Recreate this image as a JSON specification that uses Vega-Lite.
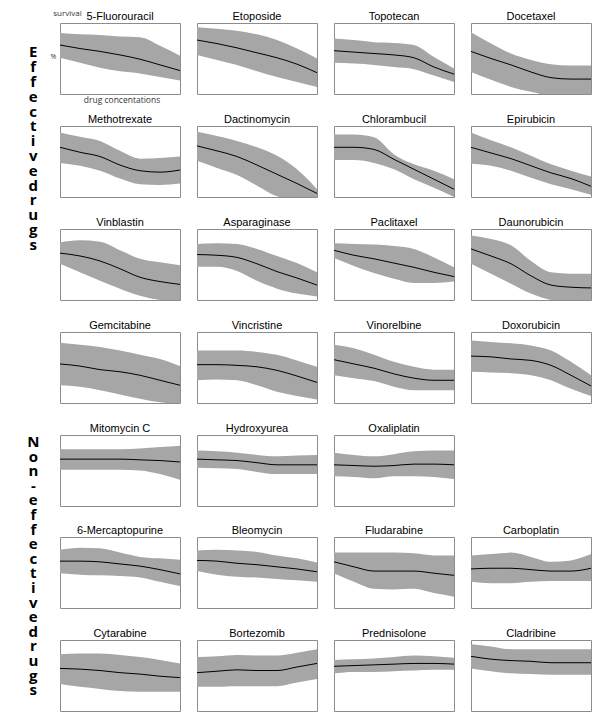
{
"$schema": "https://vega.github.io/schema/vega-lite/v6.json",
"padding": {"left": 27, "top": 9, "right": 5, "bottom": 5},
"background": "white",
"datasets": {"d": [
{"drug":"5-Fluorouracil","c":0,"s":69,"lo":51,"hi":86},{"drug":"5-Fluorouracil","c":1,"s":64,"lo":44,"hi":84},{"drug":"5-Fluorouracil","c":2,"s":60,"lo":37,"hi":83},{"drug":"5-Fluorouracil","c":3,"s":55,"lo":32,"hi":81},{"drug":"5-Fluorouracil","c":4,"s":49,"lo":29,"hi":80},{"drug":"5-Fluorouracil","c":5,"s":41,"lo":24,"hi":68},{"drug":"5-Fluorouracil","c":6,"s":33,"lo":19,"hi":54},
{"drug":"Etoposide","c":0,"s":76,"lo":55,"hi":94},{"drug":"Etoposide","c":1,"s":71,"lo":48,"hi":92},{"drug":"Etoposide","c":2,"s":65,"lo":41,"hi":89},{"drug":"Etoposide","c":3,"s":58,"lo":32,"hi":84},{"drug":"Etoposide","c":4,"s":51,"lo":24,"hi":76},{"drug":"Etoposide","c":5,"s":42,"lo":17,"hi":64},{"drug":"Etoposide","c":6,"s":30,"lo":10,"hi":50},
{"drug":"Topotecan","c":0,"s":61,"lo":44,"hi":78},{"drug":"Topotecan","c":1,"s":59,"lo":43,"hi":76},{"drug":"Topotecan","c":2,"s":57,"lo":41,"hi":73},{"drug":"Topotecan","c":3,"s":55,"lo":38,"hi":72},{"drug":"Topotecan","c":4,"s":51,"lo":35,"hi":69},{"drug":"Topotecan","c":5,"s":38,"lo":26,"hi":52},{"drug":"Topotecan","c":6,"s":28,"lo":17,"hi":36},
{"drug":"Docetaxel","c":0,"s":60,"lo":31,"hi":87},{"drug":"Docetaxel","c":1,"s":50,"lo":20,"hi":71},{"drug":"Docetaxel","c":2,"s":41,"lo":10,"hi":57},{"drug":"Docetaxel","c":3,"s":31,"lo":3,"hi":48},{"drug":"Docetaxel","c":4,"s":23,"lo":-3,"hi":42},{"drug":"Docetaxel","c":5,"s":21,"lo":-5,"hi":40},{"drug":"Docetaxel","c":6,"s":21,"lo":-5,"hi":40},
{"drug":"Methotrexate","c":0,"s":70,"lo":48,"hi":91},{"drug":"Methotrexate","c":1,"s":63,"lo":44,"hi":85},{"drug":"Methotrexate","c":2,"s":57,"lo":37,"hi":79},{"drug":"Methotrexate","c":3,"s":45,"lo":26,"hi":65},{"drug":"Methotrexate","c":4,"s":37,"lo":18,"hi":54},{"drug":"Methotrexate","c":5,"s":35,"lo":17,"hi":55},{"drug":"Methotrexate","c":6,"s":38,"lo":19,"hi":57},
{"drug":"Dactinomycin","c":0,"s":72,"lo":51,"hi":92},{"drug":"Dactinomycin","c":1,"s":65,"lo":41,"hi":86},{"drug":"Dactinomycin","c":2,"s":57,"lo":31,"hi":79},{"drug":"Dactinomycin","c":3,"s":45,"lo":16,"hi":70},{"drug":"Dactinomycin","c":4,"s":32,"lo":1,"hi":58},{"drug":"Dactinomycin","c":5,"s":19,"lo":-5,"hi":39},{"drug":"Dactinomycin","c":6,"s":5,"lo":-5,"hi":11},
{"drug":"Chlorambucil","c":0,"s":70,"lo":52,"hi":88},{"drug":"Chlorambucil","c":1,"s":70,"lo":52,"hi":88},{"drug":"Chlorambucil","c":2,"s":67,"lo":48,"hi":84},{"drug":"Chlorambucil","c":3,"s":53,"lo":39,"hi":60},{"drug":"Chlorambucil","c":4,"s":39,"lo":25,"hi":46},{"drug":"Chlorambucil","c":5,"s":25,"lo":13,"hi":37},{"drug":"Chlorambucil","c":6,"s":11,"lo":0,"hi":25},
{"drug":"Epirubicin","c":0,"s":70,"lo":47,"hi":91},{"drug":"Epirubicin","c":1,"s":62,"lo":44,"hi":80},{"drug":"Epirubicin","c":2,"s":54,"lo":37,"hi":70},{"drug":"Epirubicin","c":3,"s":44,"lo":27,"hi":58},{"drug":"Epirubicin","c":4,"s":34,"lo":18,"hi":46},{"drug":"Epirubicin","c":5,"s":26,"lo":11,"hi":37},{"drug":"Epirubicin","c":6,"s":15,"lo":3,"hi":29},
{"drug":"Vinblastin","c":0,"s":66,"lo":51,"hi":81},{"drug":"Vinblastin","c":1,"s":62,"lo":39,"hi":84},{"drug":"Vinblastin","c":2,"s":55,"lo":27,"hi":82},{"drug":"Vinblastin","c":3,"s":44,"lo":16,"hi":70},{"drug":"Vinblastin","c":4,"s":32,"lo":6,"hi":58},{"drug":"Vinblastin","c":5,"s":26,"lo":0,"hi":53},{"drug":"Vinblastin","c":6,"s":22,"lo":-2,"hi":49},
{"drug":"Asparaginase","c":0,"s":64,"lo":47,"hi":79},{"drug":"Asparaginase","c":1,"s":63,"lo":47,"hi":80},{"drug":"Asparaginase","c":2,"s":60,"lo":41,"hi":79},{"drug":"Asparaginase","c":3,"s":51,"lo":27,"hi":72},{"drug":"Asparaginase","c":4,"s":40,"lo":16,"hi":62},{"drug":"Asparaginase","c":5,"s":31,"lo":9,"hi":52},{"drug":"Asparaginase","c":6,"s":21,"lo":5,"hi":39},
{"drug":"Paclitaxel","c":0,"s":70,"lo":59,"hi":80},{"drug":"Paclitaxel","c":1,"s":63,"lo":48,"hi":79},{"drug":"Paclitaxel","c":2,"s":58,"lo":38,"hi":78},{"drug":"Paclitaxel","c":3,"s":52,"lo":30,"hi":76},{"drug":"Paclitaxel","c":4,"s":46,"lo":24,"hi":72},{"drug":"Paclitaxel","c":5,"s":39,"lo":24,"hi":60},{"drug":"Paclitaxel","c":6,"s":33,"lo":26,"hi":46},
{"drug":"Daunorubicin","c":0,"s":72,"lo":51,"hi":91},{"drug":"Daunorubicin","c":1,"s":62,"lo":37,"hi":86},{"drug":"Daunorubicin","c":2,"s":51,"lo":23,"hi":77},{"drug":"Daunorubicin","c":3,"s":34,"lo":9,"hi":55},{"drug":"Daunorubicin","c":4,"s":21,"lo":0,"hi":39},{"drug":"Daunorubicin","c":5,"s":18,"lo":-3,"hi":37},{"drug":"Daunorubicin","c":6,"s":17,"lo":-3,"hi":37},
{"drug":"Gemcitabine","c":0,"s":55,"lo":25,"hi":85},{"drug":"Gemcitabine","c":1,"s":52,"lo":23,"hi":82},{"drug":"Gemcitabine","c":2,"s":47,"lo":18,"hi":79},{"drug":"Gemcitabine","c":3,"s":44,"lo":12,"hi":74},{"drug":"Gemcitabine","c":4,"s":39,"lo":6,"hi":68},{"drug":"Gemcitabine","c":5,"s":32,"lo":1,"hi":62},{"drug":"Gemcitabine","c":6,"s":25,"lo":-2,"hi":52},
{"drug":"Vincristine","c":0,"s":54,"lo":32,"hi":74},{"drug":"Vincristine","c":1,"s":54,"lo":33,"hi":74},{"drug":"Vincristine","c":2,"s":53,"lo":32,"hi":74},{"drug":"Vincristine","c":3,"s":51,"lo":25,"hi":72},{"drug":"Vincristine","c":4,"s":46,"lo":16,"hi":68},{"drug":"Vincristine","c":5,"s":38,"lo":10,"hi":60},{"drug":"Vincristine","c":6,"s":29,"lo":5,"hi":51},
{"drug":"Vinorelbine","c":0,"s":61,"lo":39,"hi":82},{"drug":"Vinorelbine","c":1,"s":55,"lo":35,"hi":77},{"drug":"Vinorelbine","c":2,"s":49,"lo":31,"hi":68},{"drug":"Vinorelbine","c":3,"s":41,"lo":23,"hi":58},{"drug":"Vinorelbine","c":4,"s":35,"lo":18,"hi":51},{"drug":"Vinorelbine","c":5,"s":32,"lo":18,"hi":47},{"drug":"Vinorelbine","c":6,"s":32,"lo":18,"hi":47},
{"drug":"Doxorubicin","c":0,"s":66,"lo":44,"hi":88},{"drug":"Doxorubicin","c":1,"s":65,"lo":43,"hi":86},{"drug":"Doxorubicin","c":2,"s":62,"lo":42,"hi":84},{"drug":"Doxorubicin","c":3,"s":60,"lo":39,"hi":81},{"drug":"Doxorubicin","c":4,"s":53,"lo":32,"hi":74},{"drug":"Doxorubicin","c":5,"s":39,"lo":20,"hi":58},{"drug":"Doxorubicin","c":6,"s":24,"lo":10,"hi":39},
{"drug":"Mitomycin C","c":0,"s":66,"lo":51,"hi":80},{"drug":"Mitomycin C","c":1,"s":66,"lo":51,"hi":80},{"drug":"Mitomycin C","c":2,"s":66,"lo":51,"hi":80},{"drug":"Mitomycin C","c":3,"s":66,"lo":51,"hi":80},{"drug":"Mitomycin C","c":4,"s":65,"lo":50,"hi":81},{"drug":"Mitomycin C","c":5,"s":64,"lo":45,"hi":83},{"drug":"Mitomycin C","c":6,"s":62,"lo":37,"hi":85},
{"drug":"Hydroxyurea","c":0,"s":66,"lo":54,"hi":78},{"drug":"Hydroxyurea","c":1,"s":65,"lo":53,"hi":77},{"drug":"Hydroxyurea","c":2,"s":64,"lo":52,"hi":75},{"drug":"Hydroxyurea","c":3,"s":61,"lo":48,"hi":72},{"drug":"Hydroxyurea","c":4,"s":58,"lo":45,"hi":70},{"drug":"Hydroxyurea","c":5,"s":58,"lo":45,"hi":71},{"drug":"Hydroxyurea","c":6,"s":58,"lo":45,"hi":72},
{"drug":"Oxaliplatin","c":0,"s":58,"lo":42,"hi":75},{"drug":"Oxaliplatin","c":1,"s":57,"lo":41,"hi":72},{"drug":"Oxaliplatin","c":2,"s":56,"lo":39,"hi":70},{"drug":"Oxaliplatin","c":3,"s":57,"lo":42,"hi":73},{"drug":"Oxaliplatin","c":4,"s":59,"lo":42,"hi":77},{"drug":"Oxaliplatin","c":5,"s":59,"lo":41,"hi":78},{"drug":"Oxaliplatin","c":6,"s":58,"lo":38,"hi":78},
{"drug":"6-Mercaptopurine","c":0,"s":66,"lo":49,"hi":82},{"drug":"6-Mercaptopurine","c":1,"s":66,"lo":47,"hi":85},{"drug":"6-Mercaptopurine","c":2,"s":65,"lo":46,"hi":84},{"drug":"6-Mercaptopurine","c":3,"s":62,"lo":45,"hi":78},{"drug":"6-Mercaptopurine","c":4,"s":59,"lo":43,"hi":72},{"drug":"6-Mercaptopurine","c":5,"s":54,"lo":37,"hi":70},{"drug":"6-Mercaptopurine","c":6,"s":48,"lo":31,"hi":68},
{"drug":"Bleomycin","c":0,"s":67,"lo":52,"hi":81},{"drug":"Bleomycin","c":1,"s":66,"lo":47,"hi":82},{"drug":"Bleomycin","c":2,"s":63,"lo":44,"hi":81},{"drug":"Bleomycin","c":3,"s":61,"lo":43,"hi":79},{"drug":"Bleomycin","c":4,"s":58,"lo":41,"hi":74},{"drug":"Bleomycin","c":5,"s":55,"lo":39,"hi":70},{"drug":"Bleomycin","c":6,"s":51,"lo":37,"hi":64},
{"drug":"Fludarabine","c":0,"s":65,"lo":49,"hi":78},{"drug":"Fludarabine","c":1,"s":58,"lo":37,"hi":78},{"drug":"Fludarabine","c":2,"s":52,"lo":27,"hi":78},{"drug":"Fludarabine","c":3,"s":52,"lo":26,"hi":78},{"drug":"Fludarabine","c":4,"s":52,"lo":27,"hi":77},{"drug":"Fludarabine","c":5,"s":49,"lo":21,"hi":74},{"drug":"Fludarabine","c":6,"s":46,"lo":16,"hi":74},
{"drug":"Carboplatin","c":0,"s":55,"lo":37,"hi":74},{"drug":"Carboplatin","c":1,"s":56,"lo":35,"hi":76},{"drug":"Carboplatin","c":2,"s":56,"lo":35,"hi":78},{"drug":"Carboplatin","c":3,"s":54,"lo":37,"hi":72},{"drug":"Carboplatin","c":4,"s":52,"lo":38,"hi":65},{"drug":"Carboplatin","c":5,"s":52,"lo":38,"hi":67},{"drug":"Carboplatin","c":6,"s":56,"lo":38,"hi":76},
{"drug":"Cytarabine","c":0,"s":60,"lo":38,"hi":80},{"drug":"Cytarabine","c":1,"s":59,"lo":34,"hi":81},{"drug":"Cytarabine","c":2,"s":57,"lo":31,"hi":81},{"drug":"Cytarabine","c":3,"s":54,"lo":28,"hi":79},{"drug":"Cytarabine","c":4,"s":52,"lo":27,"hi":76},{"drug":"Cytarabine","c":5,"s":49,"lo":27,"hi":72},{"drug":"Cytarabine","c":6,"s":47,"lo":27,"hi":67},
{"drug":"Bortezomib","c":0,"s":54,"lo":34,"hi":76},{"drug":"Bortezomib","c":1,"s":56,"lo":34,"hi":77},{"drug":"Bortezomib","c":2,"s":58,"lo":35,"hi":79},{"drug":"Bortezomib","c":3,"s":57,"lo":35,"hi":78},{"drug":"Bortezomib","c":4,"s":57,"lo":35,"hi":78},{"drug":"Bortezomib","c":5,"s":62,"lo":40,"hi":82},{"drug":"Bortezomib","c":6,"s":67,"lo":45,"hi":87},
{"drug":"Prednisolone","c":0,"s":63,"lo":53,"hi":72},{"drug":"Prednisolone","c":1,"s":64,"lo":55,"hi":73},{"drug":"Prednisolone","c":2,"s":65,"lo":55,"hi":74},{"drug":"Prednisolone","c":3,"s":66,"lo":56,"hi":76},{"drug":"Prednisolone","c":4,"s":67,"lo":57,"hi":78},{"drug":"Prednisolone","c":5,"s":67,"lo":58,"hi":77},{"drug":"Prednisolone","c":6,"s":66,"lo":58,"hi":75},
{"drug":"Cladribine","c":0,"s":77,"lo":60,"hi":94},{"drug":"Cladribine","c":1,"s":73,"lo":56,"hi":91},{"drug":"Cladribine","c":2,"s":71,"lo":53,"hi":87},{"drug":"Cladribine","c":3,"s":70,"lo":52,"hi":87},{"drug":"Cladribine","c":4,"s":68,"lo":51,"hi":87},{"drug":"Cladribine","c":5,"s":68,"lo":51,"hi":87},{"drug":"Cladribine","c":6,"s":68,"lo":51,"hi":87}
]},
"config": {
  "view": {"stroke": "#8c8c8c", "strokeWidth": 1},
  "header": {"labels": false, "title": null, "labelFontSize": 0, "labelPadding": 0, "titlePadding": 0},
  "headerFacet": {"labels": false, "title": null, "labelFontSize": 0, "labelPadding": 0, "titlePadding": 0}
},
"spacing": 18,
"vconcat": [
{
  "title": {"text": ["E","f","f","e","c","t","i","v","e","d","r","u","g","s"], "orient": "left", "anchor": "end", "angle": 0, "align": "center", "baseline": "top", "font": "Open Sans", "fontSize": 15, "fontWeight": "bold", "lineHeight": 14.8, "offset": 7, "dy": 36, "color": "#000000"},
  "data": {"name": "d"},
  "transform": [{"filter": {"field": "drug", "oneOf": ["5-Fluorouracil","Etoposide","Topotecan","Docetaxel","Methotrexate","Dactinomycin","Chlorambucil","Epirubicin","Vinblastin","Asparaginase","Paclitaxel","Daunorubicin","Gemcitabine","Vincristine","Vinorelbine","Doxorubicin"]}}],
  "facet": {"field": "drug", "type": "nominal", "header": {"labels": false, "title": null, "labelFontSize": 0, "labelPadding": 0}, "sort": ["5-Fluorouracil","Etoposide","Topotecan","Docetaxel","Methotrexate","Dactinomycin","Chlorambucil","Epirubicin","Vinblastin","Asparaginase","Paclitaxel","Daunorubicin","Gemcitabine","Vincristine","Vinorelbine","Doxorubicin"]},
  "columns": 4,
  "bounds": "flush",
  "spacing": {"row": 32, "column": 17},
  "spec": {
    "width": 120, "height": 71,
    "layer": [
      {"mark": {"type": "area", "color": "#a6a6a6", "opacity": 1, "clip": true, "interpolate": "monotone"},
       "encoding": {"x": {"field": "c", "type": "quantitative", "scale": {"domain": [0, 6], "nice": false}, "axis": null},
                    "y": {"field": "hi", "type": "quantitative", "scale": {"domain": [0, 100], "nice": false}, "axis": null},
                    "y2": {"field": "lo"}}},
      {"mark": {"type": "line", "color": "#000000", "strokeWidth": 1, "clip": true, "interpolate": "monotone"},
       "encoding": {"x": {"field": "c", "type": "quantitative"}, "y": {"field": "s", "type": "quantitative"}}},
      {"transform": [{"filter": "datum.c === 0"}],
       "mark": {"type": "text", "font": "Liberation Sans", "fontSize": 11, "color": "#000000", "align": "center", "baseline": "alphabetic", "dy": -3},
       "encoding": {"text": {"field": "drug"}, "x": {"datum": 3, "type": "quantitative"}, "y": {"datum": 100, "type": "quantitative"}}},
      {"transform": [{"filter": "datum.drug === '5-Fluorouracil' && datum.c === 0"}],
       "mark": {"type": "text", "font": "Open Sans", "fontSize": 8, "color": "#333333", "align": "center", "baseline": "middle"},
       "encoding": {"text": {"value": "survival"}, "x": {"datum": 0.375, "type": "quantitative"}, "y": {"datum": 112.7, "type": "quantitative"}}},
      {"transform": [{"filter": "datum.drug === '5-Fluorouracil' && datum.c === 0"}],
       "mark": {"type": "text", "font": "Open Sans", "fontSize": 7, "color": "#333333", "align": "center", "baseline": "middle"},
       "encoding": {"text": {"value": "%"}, "x": {"datum": -0.33, "type": "quantitative"}, "y": {"datum": 52, "type": "quantitative"}}},
      {"transform": [{"filter": "datum.drug === '5-Fluorouracil' && datum.c === 0"}],
       "mark": {"type": "text", "font": "Open Sans", "fontSize": 8.5, "color": "#333333", "align": "center", "baseline": "middle"},
       "encoding": {"text": {"value": "drug concentations"}, "x": {"datum": 3.1, "type": "quantitative"}, "y": {"datum": -8.5, "type": "quantitative"}}}
    ]
  }
},
{
  "title": {"text": ["N","o","n","-","e","f","f","e","c","t","i","v","e","d","r","u","g","s"], "orient": "left", "anchor": "middle", "angle": 0, "align": "center", "baseline": "top", "font": "Open Sans", "fontSize": 15, "fontWeight": "bold", "lineHeight": 14.6, "offset": 14, "dy": -132, "color": "#000000"},
  "spacing": 17,
  "vconcat": [
  {
    "data": {"name": "d"},
    "transform": [{"filter": {"field": "drug", "oneOf": ["Mitomycin C","Hydroxyurea","Oxaliplatin"]}}],
    "facet": {"field": "drug", "type": "nominal", "header": {"labels": false, "title": null, "labelFontSize": 0, "labelPadding": 0}, "sort": ["Mitomycin C","Hydroxyurea","Oxaliplatin"]},
    "columns": 4,
    "bounds": "flush",
    "spacing": {"row": 32, "column": 17},
    "spec": {
      "width": 120, "height": 71,
      "layer": [
        {"mark": {"type": "area", "color": "#a6a6a6", "opacity": 1, "clip": true, "interpolate": "monotone"},
         "encoding": {"x": {"field": "c", "type": "quantitative", "scale": {"domain": [0, 6], "nice": false}, "axis": null},
                      "y": {"field": "hi", "type": "quantitative", "scale": {"domain": [0, 100], "nice": false}, "axis": null},
                      "y2": {"field": "lo"}}},
        {"mark": {"type": "line", "color": "#000000", "strokeWidth": 1, "clip": true, "interpolate": "monotone"},
         "encoding": {"x": {"field": "c", "type": "quantitative"}, "y": {"field": "s", "type": "quantitative"}}},
        {"transform": [{"filter": "datum.c === 0"}],
         "mark": {"type": "text", "font": "Liberation Sans", "fontSize": 11, "color": "#000000", "align": "center", "baseline": "alphabetic", "dy": -3},
         "encoding": {"text": {"field": "drug"}, "x": {"datum": 3, "type": "quantitative"}, "y": {"datum": 100, "type": "quantitative"}}}
      ]
    }
  },
  {
    "data": {"name": "d"},
    "transform": [{"filter": {"field": "drug", "oneOf": ["6-Mercaptopurine","Bleomycin","Fludarabine","Carboplatin","Cytarabine","Bortezomib","Prednisolone","Cladribine"]}}],
    "facet": {"field": "drug", "type": "nominal", "header": {"labels": false, "title": null, "labelFontSize": 0, "labelPadding": 0}, "sort": ["6-Mercaptopurine","Bleomycin","Fludarabine","Carboplatin","Cytarabine","Bortezomib","Prednisolone","Cladribine"]},
    "columns": 4,
    "bounds": "flush",
    "spacing": {"row": 32, "column": 17},
    "spec": {
      "width": 120, "height": 71,
      "layer": [
        {"mark": {"type": "area", "color": "#a6a6a6", "opacity": 1, "clip": true, "interpolate": "monotone"},
         "encoding": {"x": {"field": "c", "type": "quantitative", "scale": {"domain": [0, 6], "nice": false}, "axis": null},
                      "y": {"field": "hi", "type": "quantitative", "scale": {"domain": [0, 100], "nice": false}, "axis": null},
                      "y2": {"field": "lo"}}},
        {"mark": {"type": "line", "color": "#000000", "strokeWidth": 1, "clip": true, "interpolate": "monotone"},
         "encoding": {"x": {"field": "c", "type": "quantitative"}, "y": {"field": "s", "type": "quantitative"}}},
        {"transform": [{"filter": "datum.c === 0"}],
         "mark": {"type": "text", "font": "Liberation Sans", "fontSize": 11, "color": "#000000", "align": "center", "baseline": "alphabetic", "dy": -3},
         "encoding": {"text": {"field": "drug"}, "x": {"datum": 3, "type": "quantitative"}, "y": {"datum": 100, "type": "quantitative"}}}
      ]
    }
  }
  ]
}
]
}
